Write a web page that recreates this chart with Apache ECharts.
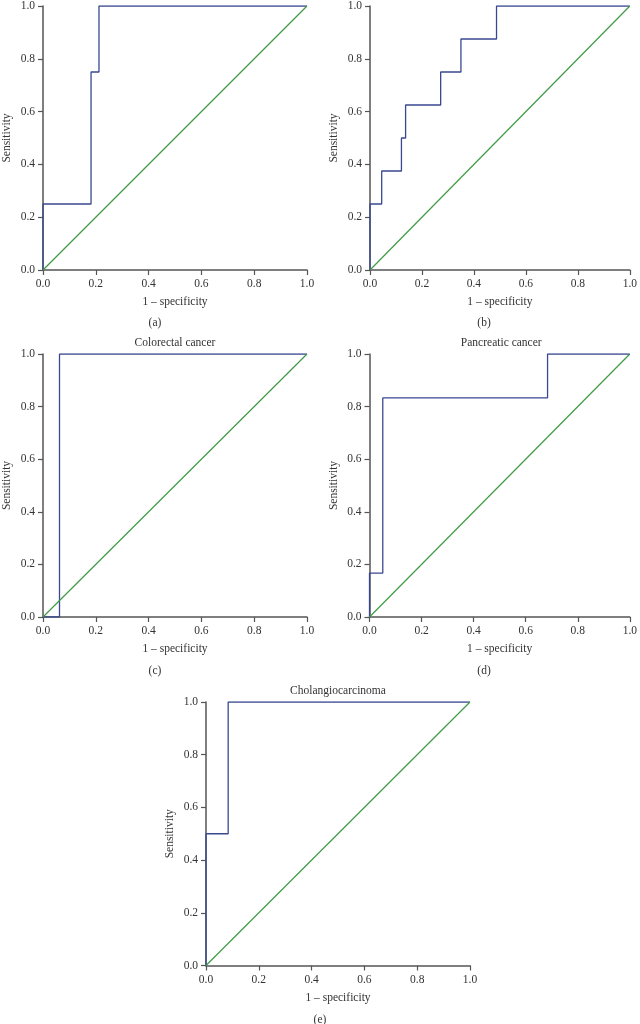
<!DOCTYPE html>
<html>
<head>
<meta charset="utf-8">
<script src="https://cdn.jsdelivr.net/npm/echarts@6/dist/echarts.min.js"></script>
<style>html,body{margin:0;padding:0;background:#fff}#c{width:640px;height:1024px}</style>
</head>
<body>
<div id="c"></div>
<script>
// ROC curves: 1 - specificity (x) and sensitivity (y)
const fprA = [0, 0, 0.182, 0.182, 0.212, 0.212, 1];
const tprA = [0, 0.25, 0.25, 0.75, 0.75, 1, 1];
const fprB = [0, 0, 0.045, 0.045, 0.121, 0.121, 0.137, 0.137, 0.272, 0.272, 0.350, 0.350, 0.487, 0.487, 1];
const tprB = [0, 0.25, 0.25, 0.375, 0.375, 0.5, 0.5, 0.625, 0.625, 0.75, 0.75, 0.875, 0.875, 1, 1];
const fprC = [0, 0.0625, 0.0625, 1];
const tprC = [0, 0, 1, 1];
const fprD = [0, 0, 0.051, 0.051, 0.684, 0.684, 1];
const tprD = [0, 0.167, 0.167, 0.833, 0.833, 1, 1];
const fprE = [0, 0, 0.084, 0.084, 1];
const tprE = [0, 0.5, 0.5, 1, 1];
const refX = [0, 1];
const refY = [0, 1];
const panelTitles = ['', '', 'Colorectal cancer', 'Pancreatic cancer', 'Cholangiocarcinoma'];
const captions = ['(a)', '(b)', '(c)', '(d)', '(e)'];
const xName = '1 \u2013 specificity';
const yName = 'Sensitivity';

const FONT = 'Liberation Serif';
const BLUE = '#3a4890';
const GREEN = '#3f9a45';
const AXIS = '#555555';
const TXT = '#333333';

const grids = [
  {left: 43, top: 6, width: 264, height: 264},
  {left: 370, top: 6, width: 263.5, height: 264},
  {left: 43, top: 354, width: 264, height: 263},
  {left: 369.5, top: 354, width: 263.5, height: 263},
  {left: 206, top: 702, width: 264, height: 263.5}
];
const captionPos = [[155, 323], [484, 323], [155, 671], [484, 671], [320, 1020]];

const fpr = [fprA, fprB, fprC, fprD, fprE];
const tpr = [tprA, tprB, tprC, tprD, tprE];
const zip = (xs, ys) => xs.map((x, i) => [x, ys[i]]);

const axisCommon = {
  type: 'value', min: 0, max: 1, interval: 0.2,
  axisLine: {show: true, lineStyle: {color: AXIS, width: 1.5}},
  axisTick: {show: true, length: 5, lineStyle: {color: AXIS, width: 1.2}},
  splitLine: {show: false},
  axisLabel: {color: TXT, fontFamily: FONT, fontSize: 11.5, formatter: v => v.toFixed(1)},
  nameLocation: 'middle',
  nameTextStyle: {color: TXT, fontFamily: FONT, fontSize: 11.5}
};

const xAxes = grids.map((g, i) => Object.assign({}, axisCommon, {
  gridIndex: i, name: xName, nameGap: 26,
  axisLabel: Object.assign({}, axisCommon.axisLabel, {margin: 8})
}));
const yAxes = grids.map((g, i) => Object.assign({}, axisCommon, {
  gridIndex: i, name: yName, nameGap: 30,
  axisLabel: Object.assign({}, axisCommon.axisLabel, {margin: 8})
}));

const series = [];
grids.forEach((g, i) => {
  series.push({
    type: 'line', xAxisIndex: i, yAxisIndex: i, data: zip(fpr[i], tpr[i]),
    showSymbol: false, symbol: 'none', lineStyle: {color: BLUE, width: 1.3}, silent: true, animation: false
  });
  series.push({
    type: 'line', xAxisIndex: i, yAxisIndex: i, data: zip(refX, refY),
    showSymbol: false, symbol: 'none', lineStyle: {color: GREEN, width: 1.2}, silent: true, animation: false
  });
});

const graphic = [];
grids.forEach((g, i) => {
  if (panelTitles[i]) {
    graphic.push({type: 'text', x: g.left + g.width / 2, y: g.top - 11,
      style: {text: panelTitles[i], fill: TXT, font: '11.5px "' + FONT + '"', textAlign: 'center', textVerticalAlign: 'middle'}});
  }
  graphic.push({type: 'text', x: captionPos[i][0], y: captionPos[i][1],
    style: {text: captions[i], fill: TXT, font: '11.5px "' + FONT + '"', textAlign: 'center', textVerticalAlign: 'middle'}});
});

const chart = echarts.init(document.getElementById('c'), null, {renderer: 'canvas'});
chart.setOption({
  backgroundColor: '#ffffff',
  animation: false,
  grid: grids,
  xAxis: xAxes,
  yAxis: yAxes,
  series: series,
  graphic: graphic
});
</script>
</body>
</html>
